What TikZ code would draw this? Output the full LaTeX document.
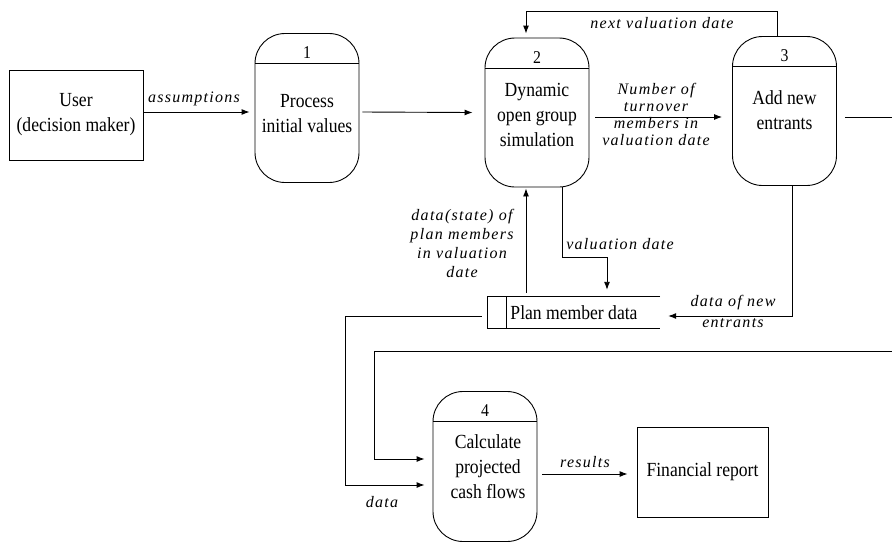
\documentclass[tikz,border=0pt]{standalone}
\usepackage{fontspec}
\setmainfont{Liberation Serif}[FakeStretch=0.88]
\newfontfamily\flowfont{Liberation Serif}[LetterSpace=8]
\usetikzlibrary{arrows.meta, calc}

\tikzset{
    % process bubble with its number strip on top
    proc/.style={
        draw, line width=0.9pt, rounded corners=30pt,
        minimum width=104pt, minimum height=149pt, inner sep=0pt,
        path picture={
            \draw[line width=0.9pt]
                ([yshift=-30pt]path picture bounding box.north west) --
                ([yshift=-30pt]path picture bounding box.north east);
        }
    },
    extent/.style={draw, line width=0.9pt, minimum height=90pt, inner sep=0pt,
        align=center, font=\fontsize{20}{25}\selectfont},
    datastore/.style={minimum width=172pt, minimum height=31pt, inner sep=0pt,
        font=\fontsize{20}{25}\selectfont},
    ptext/.style={align=center, inner sep=0pt, font=\fontsize{20}{25}\selectfont},
    pnum/.style={inner sep=0pt, font=\fontsize{18}{20}\selectfont},
    flowlbl/.style={align=center, inner sep=0pt,
        font=\flowfont\itshape\fontsize{16}{#1}\selectfont},
    flowlbl/.default=18,
    wire/.style={line width=0.9pt},
    flow/.style={line width=0.9pt, -{Latex[length=8pt,width=6pt]}}
}

\begin{document}
\begin{tikzpicture}[x=1pt, y=-1pt]
    \useasboundingbox (0,0) rectangle (892,542);

    % external entities
    \node[extent, minimum width=134pt] (user) at (76,115) {User\\(decision maker)};
    \node[extent, minimum width=131pt] (report) at (702.5,472) {Financial report};

    % processes
    \node[proc] (p1) at (307,108) {};
    \node[pnum] (n1) at ($(p1.north)+(0,20)$) {1};
    \node[ptext] (t1) at (307,114) {Process\\initial values};

    \node[proc] (p2) at (537,112.5) {};
    \node[pnum] (n2) at ($(p2.north)+(0,20)$) {2};
    \node[ptext] (t2) at (537,114.5) {Dynamic\\open group\\simulation};

    \node[proc] (p3) at (784.5,111) {};
    \node[pnum] (n3) at ($(p3.north)+(0,20)$) {3};
    \node[ptext] (t3) at (784.5,110) {Add new\\entrants};

    \node[proc, minimum height=150pt] (p4) at (485,466.5) {};
    \node[pnum] (n4) at ($(p4.north)+(0,20)$) {4};
    \node[ptext] (t4) at (488,467) {Calculate\\projected\\cash flows};

    % data store, open on the right
    \node[datastore] (store) at (574,312.5) {Plan member data};
    \draw[wire] (store.north east) -- (store.north west) -- (store.south west) -- (store.south east);
    \draw[wire] ($(store.north west)+(19,0)$) -- ($(store.south west)+(19,0)$);

    % lines leaving the page on the right
    \coordinate (edge1) at (892,117);
    \coordinate (edge2) at (892,351);

    % flows
    \draw[flow] ($(user.east)+(1,-3)$) -- ($(user.east -| p1.west)+(-5,-3)$);
    \draw[flow] ($(p1.east)+(3,4)$) -- ($(p2.west)+(-12,0)$);
    \draw[flow] ($(p2.east)+(6,4.5)$) -- ($(p3.west)+(-10,6)$);
    \draw[wire] ($(p3.east)+(8,6)$) -- (edge1);
    \draw[flow] ($(p3.north)+(-7.5,0)$) -- ++(0,-25) -| ($(p2.north)+(-11,-4)$);
    \draw[flow] ($(store.north)+(-48,-4)$) -- ($(p2.south)+(-11,1)$);
    \draw[flow] ($(p2.south)+(25,0)$) -- ++(0,70) -| ($(store.north)+(33,-7)$);
    \draw[flow] ($(p3.south)+(7.5,0)$) |- ($(store.east)+(8,3.5)$);
    \draw[flow] ($(store.west)+(-6,3.5)$) -- ++(-136,0) |- ($(p4.west)+(-8,18.5)$);
    \draw[flow] (edge2) -- ++(-518,0) |- ($(p4.west)+(-8,-7.5)$);
    \draw[flow] ($(p4.east)+(5,7.5)$) -- ($(report.west)+(-9,2)$);

    % flow labels
    \node[flowlbl] (lassume) at (194,99) {assumptions};
    \node[flowlbl] (lnext) at (662,23) {next valuation date};
    \node[flowlbl=17] (lturn) at (656,114) {Number of\\turnover\\members in\\valuation date};
    \node[flowlbl=19] (lstate) at (462,243.5) {data(state) of\\plan members\\in valuation\\date};
    \node[flowlbl] (lvdate) at (620,244.5) {valuation date};
    \node[flowlbl=21] (lnew) at (733,311.5) {data of new\\entrants};
    \node[flowlbl] (ldata) at (382,502) {data};
    \node[flowlbl] (lres) at (585,462) {results};
\end{tikzpicture}
\end{document}
